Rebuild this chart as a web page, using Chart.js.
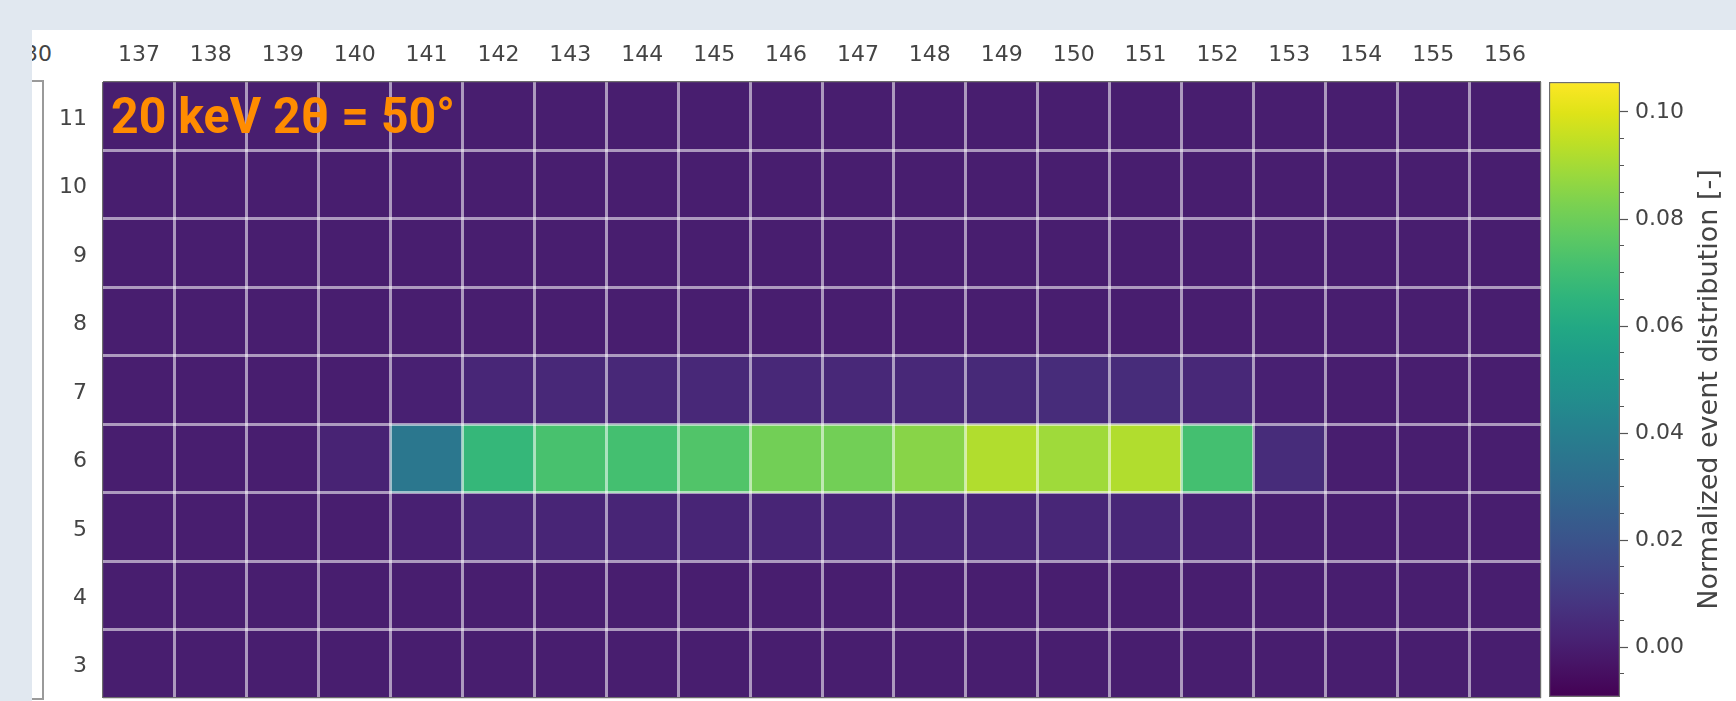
<!DOCTYPE html>
<html>
<head>
<meta charset="utf-8">
<script src="https://cdn.jsdelivr.net/npm/chart.js@4.4.1/dist/chart.umd.min.js"></script>
<style>
  html, body { margin: 0; padding: 0; }
  body { width: 1736px; height: 701px; background: #e1e8f0; position: relative; overflow: hidden; }
  #panel { position: absolute; left: 32px; top: 30px; right: 0; bottom: 0; background: #fff; overflow: hidden; }
  #stub { position: absolute; left: -8px; top: 11px; font: 22px "DejaVu Sans"; color: #444; }
  #bracket { position: absolute; left: 0; top: 50px; width: 10px; height: 616px; border: 2px solid #9a9a9a; border-left: none; }
  canvas { position: absolute; top: 0; filter: blur(0.5px); }
  #heat { left: 0; }
  #cbar { left: 1530px; }
</style>
</head>
<body>
<div id="panel">
  <span id="stub">30</span>
  <div id="bracket"></div>
</div>
<canvas id="heat" width="1736" height="701"></canvas>
<canvas id="cbar" width="206" height="701"></canvas>
<script>
// detector columns along the top, rows down the side
const columns = ['137', '138', '139', '140', '141', '142', '143', '144', '145', '146',
                 '147', '148', '149', '150', '151', '152', '153', '154', '155', '156'];
const rowLabels = [11, 10, 9, 8, 7, 6, 5, 4, 3];

// normalized event distribution per row (one value per column)
const row11 = [0, 0, 0, 0, 0, 0, 0, 0, 0, 0, 0, 0, 0, 0, 0, 0, 0, 0, 0, 0];
const row10 = [0, 0, 0, 0, 0, 0, 0, 0, 0, 0, 0, 0, 0, 0, 0, 0, 0, 0, 0, 0];
const row9  = [0, 0, 0, 0, 0, 0, 0, 0, 0, 0, 0, 0, 0, 0, 0, 0, 0, 0, 0, 0];
const row8  = [0, 0, 0, 0, 0, 0, 0, 0, 0, 0, 0, 0, 0, 0, 0, 0, 0, 0, 0, 0];
const row7  = [0, 0, 0, 0, 0.001, 0.003, 0.0035, 0.0035, 0.0035, 0.0035,
               0.0035, 0.0035, 0.004, 0.005, 0.005, 0.0035, 0.001, 0, 0, 0];
const row6  = [0, 0, 0, 0.002, 0.036, 0.067, 0.072, 0.071, 0.074, 0.081,
               0.081, 0.085, 0.092, 0.089, 0.092, 0.071, 0.005, 0, 0, 0];
const row5  = [0, 0, 0, 0, 0.001, 0.0025, 0.0025, 0.0025, 0.0025, 0.0025,
               0.0025, 0.0025, 0.0025, 0.003, 0.003, 0.002, 0.0005, 0, 0, 0];
const row4  = [0, 0, 0, 0, 0, 0, 0, 0, 0, 0, 0, 0, 0, 0, 0, 0, 0, 0, 0, 0];
const row3  = [0, 0, 0, 0, 0, 0, 0, 0, 0, 0, 0, 0, 0, 0, 0, 0, 0, 0, 0, 0];
const rowValues = [row11, row10, row9, row8, row7, row6, row5, row4, row3];

// colour scale
const colorMin = -0.0093;
const colorMax = 0.1056;
const colorTicks = [0, 0.02, 0.04, 0.06, 0.08, 0.10];
const colorMinorTicks = [-0.005, 0, 0.005, 0.01, 0.015, 0.02, 0.025, 0.03, 0.035, 0.04, 0.045,
                         0.05, 0.055, 0.06, 0.065, 0.07, 0.075, 0.08, 0.085, 0.09, 0.095, 0.10];
const colorbarTitle = 'Normalized event distribution [-]';
const annotation = '20 keV 2\u03b8 = 50\u00b0';

const viridisStops = ['#440154', '#471365', '#482475', '#463480', '#414487', '#3b528b', '#355f8d',
                      '#2f6c8e', '#2a788e', '#25848e', '#21918c', '#1e9c89', '#22a884', '#2fb47c',
                      '#44bf70', '#5ec962', '#7ad151', '#9bd93c', '#bddf26', '#dfe318', '#fde725'];

const hexToRgb = function(hex) {
    hex = hex.replace('#', '');
    return [parseInt(hex.substring(0, 2), 16), parseInt(hex.substring(2, 4), 16), parseInt(hex.substring(4, 6), 16)];
};

const viridis = function(t) {
    t = Math.min(1, Math.max(0, t));
    const p = t * (viridisStops.length - 1);
    const i = Math.min(Math.floor(p), viridisStops.length - 2);
    const f = p - i;
    const a = hexToRgb(viridisStops[i]);
    const b = hexToRgb(viridisStops[i + 1]);
    const mix = k => Math.round(a[k] + (b[k] - a[k]) * f);
    return `rgb(${mix(0)},${mix(1)},${mix(2)})`;
};

const tickFont = {family: 'DejaVu Sans', size: 22};
const tickColor = '#444';
const gridColor = 'rgba(255,255,255,0.55)';
const edgeColor = '#6e6e6e';
const rowMin = Math.min(...rowLabels) - 0.5;
const rowMax = Math.max(...rowLabels) + 0.5;
const rowEdges = rowLabels.map(r => r - 0.5).concat([rowMax]);
const isRowEdge = c => c.tick && (c.tick.value === rowMin || c.tick.value === rowMax);
const isColEdge = c => c.index === 0 || c.index === undefined;

// keep the layout from reserving room for labels that overhang the axis ends
const fixBox = (width, height) => s => {
    if (width !== null) s.width = width;
    if (height !== null) s.height = height;
    s.paddingTop = 0;
    s.paddingBottom = 0;
    s.paddingLeft = 0;
    s.paddingRight = 0;
};

const datasets = rowLabels.map((r, k) => ({
    label: String(r),
    data: columns.map(() => [r - 0.5, r + 0.5]),
    backgroundColor: rowValues[k].map(v => viridis((v - colorMin) / (colorMax - colorMin))),
    borderWidth: 0,
    barPercentage: 1,
    categoryPercentage: 1,
    grouped: false,
    yAxisID: 'y'
}));

const annotationPlugin = {
    id: 'annotation',
    afterDraw(chart) {
        const {ctx, chartArea} = chart;
        ctx.save();
        ctx.font = 'bold 50px Roboto';
        ctx.fillStyle = '#ff8c00';
        ctx.textAlign = 'left';
        ctx.textBaseline = 'alphabetic';
        ctx.fillText(annotation, chartArea.left + 8, chartArea.top + 51, 344);
        ctx.restore();
    }
};

new Chart(document.getElementById('heat').getContext('2d'), {
    type: 'bar',
    data: {labels: columns, datasets: datasets},
    options: {
        responsive: false,
        animation: false,
        layout: {padding: {left: 40, top: 30, right: 195, bottom: 3}},
        plugins: {legend: {display: false}, tooltip: {enabled: false}},
        scales: {
            x: {
                type: 'category',
                position: 'top',
                offset: true,
                grid: {
                    offset: true,
                    drawTicks: false,
                    z: 1,
                    color: c => isColEdge(c) ? edgeColor : gridColor,
                    lineWidth: c => isColEdge(c) ? 1.2 : 3
                },
                border: {display: false},
                ticks: {color: tickColor, font: tickFont, padding: 14, maxRotation: 0, autoSkip: false},
                afterFit: fixBox(null, 52)
            },
            y: {
                type: 'linear',
                position: 'left',
                weight: 1,
                min: rowMin,
                max: rowMax,
                afterBuildTicks: s => { s.ticks = rowLabels.map(v => ({value: v})); },
                grid: {display: false, drawTicks: false},
                border: {display: false},
                ticks: {color: tickColor, font: tickFont, padding: 16, labelOffset: 3},
                afterFit: fixBox(63, null)
            },
            yg: {
                type: 'linear',
                position: 'left',
                weight: 0,
                min: rowMin,
                max: rowMax,
                afterBuildTicks: s => { s.ticks = rowEdges.map(v => ({value: v})); },
                grid: {
                    drawTicks: false,
                    z: 1,
                    color: c => isRowEdge(c) ? edgeColor : gridColor,
                    lineWidth: c => isRowEdge(c) ? 1.2 : 3
                },
                border: {display: false},
                ticks: {display: false},
                afterFit: fixBox(0, null)
            }
        }
    },
    plugins: [annotationPlugin]
});

const cbarTitlePlugin = {
    id: 'cbarTitle',
    afterDraw(chart) {
        const {ctx, chartArea} = chart;
        ctx.save();
        ctx.translate(chartArea.right + 90, (chartArea.top + chartArea.bottom) / 2);
        ctx.rotate(-Math.PI / 2);
        ctx.font = '27px "DejaVu Sans"';
        ctx.fillStyle = tickColor;
        ctx.textAlign = 'center';
        ctx.textBaseline = 'middle';
        ctx.fillText(colorbarTitle, 0, 0);
        ctx.restore();
    }
};

new Chart(document.getElementById('cbar').getContext('2d'), {
    type: 'bar',
    data: {
        labels: [''],
        datasets: [{
            data: [[colorMin, colorMax]],
            backgroundColor: ctx => {
                const area = ctx.chart.chartArea;
                if (!area) return viridis(0.5);
                const g = ctx.chart.ctx.createLinearGradient(0, area.bottom, 0, area.top);
                viridisStops.forEach((c, i) => g.addColorStop(i / (viridisStops.length - 1), c));
                return g;
            },
            borderColor: '#6e6e6e',
            borderWidth: 1.5,
            borderSkipped: false,
            barPercentage: 1,
            categoryPercentage: 1
        }]
    },
    options: {
        responsive: false,
        animation: false,
        layout: {padding: {left: 19, top: 82, right: 0, bottom: 4}},
        plugins: {legend: {display: false}, tooltip: {enabled: false}},
        scales: {
            x: {display: false},
            y: {
                position: 'right',
                weight: 1,
                min: colorMin,
                max: colorMax,
                afterBuildTicks: s => { s.ticks = colorTicks.map(v => ({value: v})); },
                grid: {drawOnChartArea: false, tickLength: 8, tickColor: '#555', tickWidth: 1.2},
                border: {display: false},
                ticks: {callback: v => v.toFixed(2), color: tickColor, font: tickFont, padding: 7},
                afterFit: fixBox(116, null)
            },
            ym: {
                position: 'right',
                weight: 0,
                min: colorMin,
                max: colorMax,
                afterBuildTicks: s => { s.ticks = colorMinorTicks.map(v => ({value: v})); },
                grid: {drawOnChartArea: false, tickLength: 4, tickColor: '#555', tickWidth: 1},
                border: {display: false},
                ticks: {display: false},
                afterFit: fixBox(0, null)
            }
        }
    },
    plugins: [cbarTitlePlugin]
});
</script>
</body>
</html>
